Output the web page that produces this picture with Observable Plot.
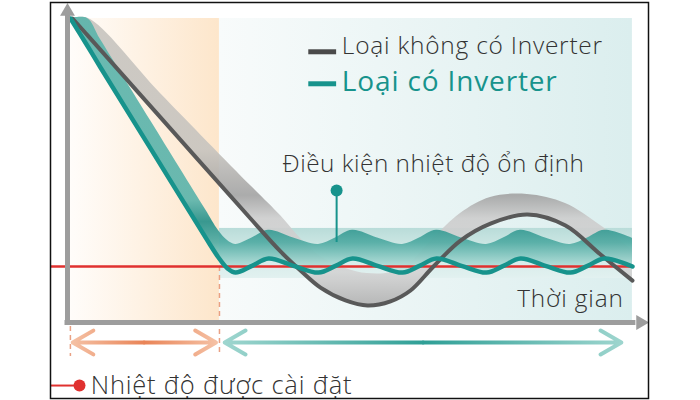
<!DOCTYPE html>
<html><head><meta charset="utf-8">
<script src="https://cdn.jsdelivr.net/npm/d3@7"></script>
<script src="https://cdn.jsdelivr.net/npm/@observablehq/plot@0.6"></script>
<style>body{margin:0;background:#fff}</style>
</head><body><div id="chart"></div>
<script>
// ---- data (time in arbitrary units 0..100, temperature in arbitrary units 0..100)
const grayTime    = [0.86, 3.62, 16.03, 31.55, 36.72, 40.17, 43.62, 47.93, 51.72, 55.69, 59.14, 63.10, 67.76, 72.93, 79.31, 85.86, 91.90, 97.41];
const grayTemp    = [95, 89.4, 64.1, 32.5, 22.2, 16.25, 10.9, 6.9, 5.3, 6.6, 10, 17.5, 25.6, 30.9, 33.75, 30.3, 21.25, 13.1];
const grayBandTop = [95, 95, 71.6, 42.8, 33.4, 26.25, 20.6, 16.9, 15.3, 15.6, 18.75, 26.25, 34.1, 39.1, 40.0, 37.2, 30.3, 22.5];

const tealTime    = [0.52, 3.45, 5.69, 14.31, 23.79, 26.03, 27.59, 28.97, 31.81, 34.66, 38.97, 43.28, 46.21, 49.14, 53.45, 57.76, 60.69, 63.62, 67.93, 72.24, 75.17, 78.10, 82.41, 86.72, 89.66, 92.59, 97.41];
const tealTemp    = [95, 86.4, 79.7, 54.4, 26.6, 20.3, 16.9, 15.6, 17.7, 20, 17.7, 15.6, 17.7, 20, 17.7, 15.6, 17.7, 20, 17.7, 15.6, 17.7, 20, 17.7, 15.6, 17.7, 20, 17.5];
const tealBandTop = [95, 95, 88.4, 63.1, 35.3, 28.75, 25.6, 24.4, 26.4, 28.8, 26.4, 24.4, 26.4, 28.8, 26.4, 24.4, 26.4, 28.8, 26.4, 24.4, 26.4, 28.8, 26.4, 24.4, 26.4, 28.8, 26.3];

const setPoint = 17.5;
const stableLow = 13.75, stableHigh = 29.4;
const phaseStart = 0, phaseSwitch = 26.2, phaseEnd = 97.4;
const topTemp = 95;

const labels = {
  nonInverter: "Loại không có Inverter",
  inverter: "Loại có Inverter",
  stable: "Điều kiện nhiệt độ ổn định",
  time: "Thời gian",
  setPoint: "Nhiệt độ được cài đặt"
};

const grayRows = grayTime.map((t, i) => ({t, v: grayTemp[i], top: grayBandTop[i]}));
const tealRows = tealTime.map((t, i) => ({t, v: tealTemp[i], top: tealBandTop[i]}));

const AXIS = "#9d9d9d", TEAL = "#17938c", DARK = "#595959", RED = "#e0312f", TXT = "#333";
const FONT = "Open Sans";

const svg = Plot.plot({
  width: 700, height: 400,
  marginLeft: 50, marginRight: 52, marginTop: 2, marginBottom: 2,
  x: {domain: [0, 100], range: [67, 647], axis: null},
  y: {domain: [0, 100], range: [322, 2], axis: null},
  marks: [
    // backgrounds
    Plot.rect([0], {x1: phaseStart, x2: phaseSwitch, y1: 0, y2: topTemp, fill: "url(#bgWarm)"}),
    Plot.rect([0], {x1: phaseSwitch, x2: phaseEnd, y1: 0, y2: topTemp, fill: "url(#bgCool)"}),
    Plot.rect([0], {x1: phaseSwitch, x2: phaseEnd, y1: stableLow, y2: stableHigh, fill: "url(#bgBand)"}),
    // dashed phase guides
    Plot.ruleX([{t: 0.5, a: -1.25, b: -10.6}, {t: phaseSwitch, a: setPoint, b: -10.6}],
      {x: "t", y1: "a", y2: "b", stroke: "#e9a184", strokeWidth: 1.5, strokeDasharray: "5,4"}),
    // ribbons
    Plot.areaY(grayRows, {x: "t", y1: "v", y2: "top", curve: "catmull-rom", fill: "url(#grayRib)", fillOpacity: 0.9}),
    Plot.areaY(tealRows, {x: "t", y1: "v", y2: "top", curve: "catmull-rom", fill: "url(#tealRib)", fillOpacity: 0.92}),
    // set point line
    Plot.ruleY([setPoint], {x1: -2.93, x2: phaseEnd, stroke: RED, strokeWidth: 2.5}),
    // curves
    Plot.line(grayRows, {x: "t", y: "v", curve: "catmull-rom", stroke: DARK, strokeWidth: 4}),
    Plot.line(tealRows, {x: "t", y: "v", curve: "catmull-rom", stroke: TEAL, strokeWidth: 4.5}),
    // axes
    Plot.ruleX([0], {y1: -0.8, y2: 96, stroke: AXIS, strokeWidth: 5}),
    Plot.ruleY([0], {x1: -0.43, x2: 98, stroke: AXIS, strokeWidth: 5}),
    Plot.dot([{t: 0, v: 97.2}], {x: "t", y: "v", symbol: "triangle", r: 5.5, fill: AXIS}),
    Plot.dot([{t: 98.8, v: 0}], {x: "t", y: "v", symbol: "triangle", r: 5.5, fill: AXIS, rotate: 90}),
    // phase arrows
    Plot.arrow([{a: 13.2, b: 0.9}, {a: 13.2, b: 25.6}], {x1: "a", x2: "b", y1: -6.25, y2: -6.25, stroke: "url(#arWarm)", strokeWidth: 4, headLength: 9}),
    Plot.arrow([{a: 61.3, b: 27.1}, {a: 61.3, b: 95.5}], {x1: "a", x2: "b", y1: -6.25, y2: -6.25, stroke: "url(#arCool)", strokeWidth: 4, headLength: 9}),
    // legend
    Plot.ruleY([{v: 84.6}], {y: "v", x1: 41.6, x2: 46.4, stroke: "#4a4a4a", strokeWidth: 5}),
    Plot.ruleY([{v: 74.6}], {y: "v", x1: 41.6, x2: 46.4, stroke: TEAL, strokeWidth: 5}),
    Plot.text([labels.nonInverter], {x: 47.3, y: 86.5, text: d => d, textAnchor: "start", fontFamily: FONT, fontSize: 24.5, fontWeight: 300, fill: TXT}),
    Plot.text([labels.inverter], {x: 47.3, y: 75.2, text: d => d, textAnchor: "start", fontFamily: FONT, fontSize: 28, fontWeight: 400, fill: TEAL}),
    // annotation
    Plot.ruleX([{t: 46.4, v: 41.25, b: 25}], {x: "t", y1: "v", y2: "b", stroke: TEAL, strokeWidth: 2}),
    Plot.dot([{t: 46.4, v: 41.25}], {x: "t", y: "v", r: 6, fill: TEAL}),
    Plot.text([labels.stable], {x: 63.1, y: 49.4, text: d => d, textAnchor: "middle", fontFamily: FONT, fontSize: 24.3, fontWeight: 300, fill: TXT}),
    Plot.text([labels.time], {x: 95.9, y: 7.3, text: d => d, textAnchor: "end", fontFamily: FONT, fontSize: 24.4, fontWeight: 300, fill: TXT}),
    // bottom legend
    Plot.ruleY([{v: -19.7}], {y: "v", x1: -2.93, x2: 2.07, stroke: RED, strokeWidth: 2}),
    Plot.dot([{t: 2.07, v: -19.7}], {x: "t", y: "v", r: 6, fill: RED}),
    Plot.text([labels.setPoint], {x: 4.0, y: -19.7, text: d => d, textAnchor: "start", fontFamily: FONT, fontSize: 25.5, fontWeight: 300, fill: TXT}),
    Plot.frame({stroke: "#111", strokeWidth: 1.5})
  ]
});

// letter spacing to match the wide geometric typeface of the original
const spacing = {
  [labels.nonInverter]: 0.75,
  [labels.inverter]: 0.85,
  [labels.stable]: 0.52,
  [labels.time]: 0.85,
  [labels.setPoint]: 0.8
};
d3.select(svg).selectAll("text").each(function () {
  const s = spacing[this.textContent];
  if (s) this.setAttribute("letter-spacing", s);
});

const X = svg.scale("x"), Y = svg.scale("y");
const defs = d3.select(svg).insert("defs", ":first-child");
function grad(id, attrs, stops) {
  const g = defs.append("linearGradient").attr("id", id);
  for (const k in attrs) g.attr(k, attrs[k]);
  for (const [o, c] of stops) g.append("stop").attr("offset", o).attr("stop-color", c);
}
grad("bgWarm", {x1: 0, x2: 1, y1: 0, y2: 0}, [[0, "#fffdfb"], [1, "#fde6cb"]]);
grad("bgCool", {x1: 0, x2: 1, y1: 0, y2: 0}, [[0, "#f8fbfb"], [1, "#dbeeee"]]);
grad("bgBand", {x1: 0, x2: 0, y1: 0, y2: 1}, [[0, "#b9dcd9"], [0.35, "#cde7e4"], [1, "#e2f1f0"]]);
// ribbon gradients run top -> bottom in temperature units
grad("tealRib", {gradientUnits: "userSpaceOnUse", x1: 0, x2: 0, y1: Y.apply(38), y2: Y.apply(16)},
  [[0, "#5db4ab"], [0.3, "#28918a"], [0.6, "#52aca4"], [1, "#c4e7e2"]]);
grad("grayRib", {gradientUnits: "userSpaceOnUse", x1: 0, x2: 0, y1: Y.apply(54), y2: Y.apply(6)},
  [[0, "#c7c4bf"], [0.3, "#a3a3a3"], [0.45, "#cdcdcd"], [0.8, "#d3d3d3"], [1, "#b3b3b3"]]);
grad("arWarm", {gradientUnits: "userSpaceOnUse", x1: X.apply(0.5), x2: X.apply(26), y1: 0, y2: 0},
  [[0, "#f5c2a6"], [0.5, "#e98457"], [1, "#f5c2a6"]]);
grad("arCool", {gradientUnits: "userSpaceOnUse", x1: X.apply(27), x2: X.apply(96), y1: 0, y2: 0},
  [[0, "#9fd6cf"], [0.5, "#2f9f96"], [1, "#9fd6cf"]]);

document.getElementById("chart").appendChild(svg);
</script></body></html>
